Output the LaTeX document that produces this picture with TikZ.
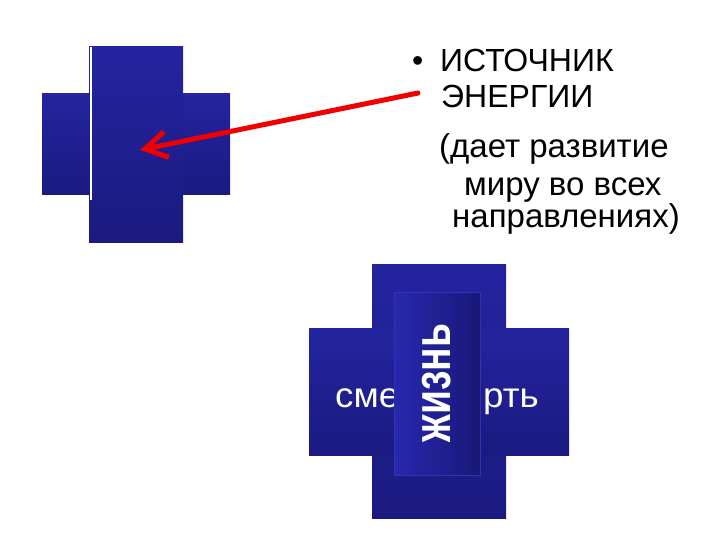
\documentclass[tikz,border=0pt]{standalone}
\usepackage{fontspec}
\usepackage{graphicx}
\setmainfont{Liberation Sans}
\usetikzlibrary{arrows.meta}
\definecolor{barTop}{RGB}{36,36,160}
\definecolor{barBot}{RGB}{26,26,128}
\definecolor{innerL}{RGB}{40,40,175}
\definecolor{innerR}{RGB}{24,24,120}
\definecolor{innerEdge}{RGB}{50,50,185}
\definecolor{arrowred}{RGB}{240,0,0}
\tikzset{
  bar/.style={top color=barTop, bottom color=barBot, draw=none},
  innerbar/.style={left color=innerL, right color=innerR, draw=innerEdge, line width=0.6pt},
  blacktext/.style={anchor=base west, inner sep=0pt, font=\fontsize{32}{36}\selectfont, text=black},
  subtext/.style={anchor=base west, inner sep=0pt, font=\fontsize{33}{38}\selectfont, text=black},
  whitetext/.style={anchor=base west, inner sep=0pt, font=\fontsize{35}{40}\selectfont, text=white},
  redarrow/.style={draw=arrowred, line width=5pt, line cap=round, -{Straight Barb[length=22pt,width=26pt,line width=5pt]}}
}
\begin{document}
\begin{tikzpicture}[x=1pt,y=-1pt]
\useasboundingbox[fill=white] (0,0) rectangle (720,540);
% top-left cross
\path[bar] (42,94) rectangle (230,195);
\path[bar] (89,47) rectangle (183,242);
\draw[white, line width=1.6pt] (91,47) -- (91,200);
% bottom cross
\path[bar] (372,264) rectangle (506,518);
\path[bar] (309,328) rectangle (569,455);
\node[whitetext, xscale=1.05] (sme) at (335,407) {сме};
\path[innerbar] (394,292) rectangle (480,475);
\node[whitetext, xscale=1.05] (rt) at (483,407) {рть};
\node[rotate=90, inner sep=0pt, text=white, font=\bfseries\fontsize{39}{44}\selectfont] (life) at (437,383) {\scalebox{1}[1.35]{жизнь}};
% text
\node[blacktext] (bul) at (412,72) {•};
\node[blacktext] (src) at (440,72) {ИСТОЧНИК};
\node[blacktext] (en) at (441,108) {ЭНЕРГИИ};
\node[subtext] (l3) at (439,158) {(дает развитие};
\node[subtext] (l4) at (464,196) {миру во всех};
\node[subtext] (l5) at (452,228) {направлениях)};
% arrow
\coordinate (astart) at (418,93);
\coordinate (atip) at (140,150);
\draw[redarrow] (astart) -- (atip);
\end{tikzpicture}
\end{document}
